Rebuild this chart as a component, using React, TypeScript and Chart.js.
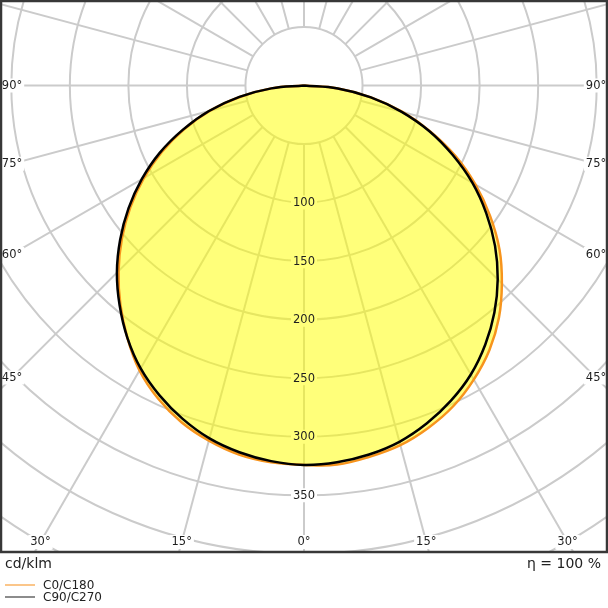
import { useEffect, useRef } from 'react';
import { Chart, registerables } from 'chart.js';

Chart.register(...registerables);

// gamma angles (deg from nadir) and intensities in cd/klm
const GAMMA = [0, 5, 10, 15, 20, 25, 30, 35, 40, 45, 50, 55, 60, 65, 70, 75, 80, 85, 90];
const C0 = [325, 325, 322, 318, 311, 302, 290, 276, 259, 239, 218, 194, 169, 143, 115, 87, 58, 29, 0];
const C180 = [324, 323, 320, 314, 306, 295, 281, 263, 244, 224, 203, 181, 158, 134, 109, 83, 55, 28, 0];
const C90 = [324, 323, 320, 315, 307, 297, 285, 270, 253, 234, 213, 190, 166, 140, 114, 86, 58, 29, 0];
const C270 = [324, 322, 318, 312, 303, 292, 279, 263, 245, 226, 205, 183, 160, 136, 110, 84, 56, 28, 0];

// polar grid
const RINGS = [50, 100, 150, 200, 250, 300, 350, 400, 450, 500];
const RING_LABELS = [100, 150, 200, 250, 300, 350];
const SPOKES = [0, 15, 30, 45, 60, 75, 90, 105, 120, 135, 150, 165, 180, 195, 210, 225, 240, 255, 270, 285, 300, 315, 330, 345];
const SIDE_ANGLES = [90, 75, 60, 45];
const BOTTOM_ANGLES = [-30, -15, 0, 15, 30];

const ORANGE = '#f7941d';
const FILL = 'rgba(255,255,0,0.52)';
const GRID = '#cbcbcb';
const FONT = '11.5px "DejaVu Sans"';
const RAD = Math.PI / 180;

function toPoints(left: number[], right: number[]) {
  const pts: { x: number; y: number }[] = [];
  for (let i = GAMMA.length - 1; i >= 0; i--) {
    const g = GAMMA[i] * RAD;
    pts.push({ x: -left[i] * Math.sin(g), y: -left[i] * Math.cos(g) });
  }
  for (let i = 1; i < GAMMA.length; i++) {
    const g = GAMMA[i] * RAD;
    pts.push({ x: right[i] * Math.sin(g), y: -right[i] * Math.cos(g) });
  }
  return pts;
}

function labelSpots(chart: any) {
  const { chartArea: a, scales } = chart;
  const cx = scales.x.getPixelForValue(0);
  const cy = scales.y.getPixelForValue(0);
  const spots: { text: string; x: number; y: number }[] = [];
  RING_LABELS.forEach((r) => spots.push({ text: String(r), x: cx, y: scales.y.getPixelForValue(-r) }));
  SIDE_ANGLES.forEach((g) => {
    const s = Math.sin(g * RAD);
    const c = Math.cos(g * RAD);
    [a.left + 11, a.right - 11].forEach((x) => {
      const t = Math.abs(x - cx) / s;
      spots.push({ text: `${g}°`, x, y: cy + t * c });
    });
  });
  BOTTOM_ANGLES.forEach((g) => {
    const y = a.bottom - 10;
    const t = (y - cy) / Math.cos(g * RAD);
    spots.push({ text: `${Math.abs(g)}°`, x: cx + t * Math.sin(g * RAD), y });
  });
  return spots;
}

const polarGrid = {
  id: 'polarGrid',
  beforeDatasetsDraw(chart: any) {
    const { ctx, chartArea: a, scales } = chart;
    const sx = scales.x;
    const sy = scales.y;
    const cx = sx.getPixelForValue(0);
    const cy = sy.getPixelForValue(0);
    ctx.save();
    ctx.font = FONT;
    ctx.beginPath();
    ctx.rect(a.left, a.top, a.right - a.left, a.bottom - a.top);
    labelSpots(chart).forEach((s) => {
      const w = ctx.measureText(s.text).width + 4;
      ctx.rect(s.x - w / 2, s.y - 7, w, 14);
    });
    ctx.clip('evenodd');
    ctx.strokeStyle = GRID;
    ctx.lineWidth = 2;
    RINGS.forEach((r) => {
      ctx.beginPath();
      ctx.ellipse(cx, cy, sx.getPixelForValue(r) - cx, cy - sy.getPixelForValue(r), 0, 0, Math.PI * 2);
      ctx.stroke();
    });
    const r0 = RINGS[0];
    const r1 = RINGS[RINGS.length - 1] + 200;
    SPOKES.forEach((g) => {
      const s = Math.sin(g * RAD);
      const c = Math.cos(g * RAD);
      ctx.beginPath();
      ctx.moveTo(sx.getPixelForValue(r0 * s), sy.getPixelForValue(-r0 * c));
      ctx.lineTo(sx.getPixelForValue(r1 * s), sy.getPixelForValue(-r1 * c));
      ctx.stroke();
    });
    ctx.restore();
  },
  afterDatasetsDraw(chart: any) {
    const { ctx, chartArea: a } = chart;
    ctx.save();
    ctx.font = FONT;
    ctx.fillStyle = '#1e1e1e';
    ctx.textAlign = 'center';
    ctx.textBaseline = 'middle';
    labelSpots(chart).forEach((s) => ctx.fillText(s.text, s.x, s.y + 0.5));
    ctx.strokeStyle = '#383838';
    ctx.lineWidth = 2.5;
    ctx.strokeRect(a.left, a.top, a.right - a.left, a.bottom - a.top);
    ctx.restore();
  },
};

export default function App() {
  const canvasRef = useRef<HTMLCanvasElement>(null);

  useEffect(() => {
    if (!canvasRef.current) return;
    const chart = new Chart(canvasRef.current, {
      type: 'scatter',
      data: {
        datasets: [
          {
            label: 'C90/C270',
            data: toPoints(C270, C90),
            showLine: true,
            borderColor: '#000000',
            borderWidth: 2.5,
            pointRadius: 0,
            tension: 0.4,
            fill: false,
            order: 0,
          },
          {
            label: 'C0/C180',
            data: toPoints(C180, C0),
            showLine: true,
            borderColor: ORANGE,
            backgroundColor: FILL,
            borderWidth: 2.5,
            pointRadius: 0,
            tension: 0.4,
            fill: 'shape',
            order: 1,
          },
        ],
      },
      options: {
        responsive: true,
        maintainAspectRatio: false,
        animation: false,
        layout: { padding: { left: 1, top: 1, right: 1, bottom: 56 } },
        plugins: { legend: { display: false }, tooltip: { enabled: false } },
        scales: {
          x: { type: 'linear', display: false, min: -258.8, max: 258.8 },
          y: { type: 'linear', display: false, min: -398.4, max: 72.2 },
        },
      },
      plugins: [polarGrid],
    });
    return () => chart.destroy();
  }, []);

  const text = { position: 'absolute' as const, fontFamily: '"DejaVu Sans"', color: '#222', whiteSpace: 'nowrap' as const };

  return (
    <div style={{ position: 'absolute', left: 0, top: 0, width: 608, height: 608, background: '#fff' }}>
      <div style={{ position: 'absolute', left: 0, top: 0, width: 608, height: 608 }}>
        <canvas ref={canvasRef} />
      </div>
      <div style={{ ...text, left: 5, top: 555, fontSize: 14, lineHeight: '16px' }}>cd/klm</div>
      <div style={{ ...text, right: 7, top: 555, fontSize: 14, lineHeight: '16px' }}>η = 100 %</div>
      <div style={{ position: 'absolute', left: 5, top: 584, width: 30, height: 2, background: '#fbc68a' }} />
      <div style={{ ...text, left: 43, top: 579, fontSize: 12, lineHeight: '12px' }}>C0/C180</div>
      <div style={{ position: 'absolute', left: 5, top: 596, width: 30, height: 2, background: '#8c8c8c' }} />
      <div style={{ ...text, left: 43, top: 591, fontSize: 12, lineHeight: '12px' }}>C90/C270</div>
    </div>
  );
}
